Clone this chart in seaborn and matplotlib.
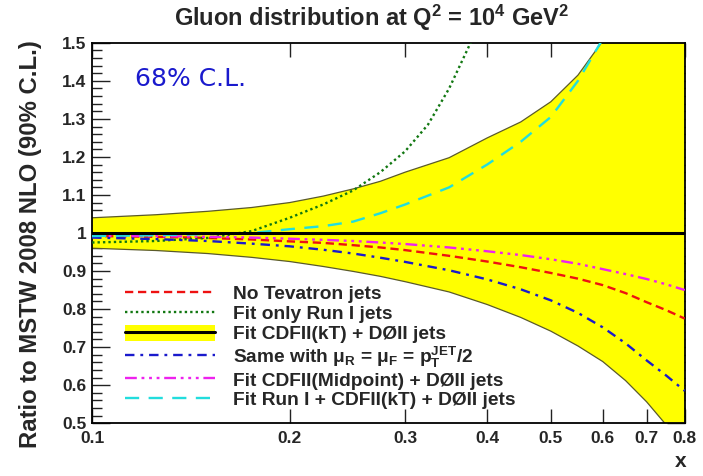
import numpy as np
import pandas as pd
import matplotlib
matplotlib.use("Agg")
import matplotlib.pyplot as plt
import seaborn as sns
from matplotlib.patches import Patch
from matplotlib.lines import Line2D
from matplotlib.ticker import FixedLocator, FixedFormatter, MultipleLocator, NullLocator

# ---------------- data ----------------
x_grid = [0.1, 0.125, 0.15, 0.175, 0.2, 0.225, 0.25, 0.275, 0.3, 0.35, 0.4, 0.45,
          0.5, 0.55, 0.6, 0.65, 0.7, 0.75, 0.8]
band_upper = [1.040, 1.048, 1.057, 1.067, 1.080, 1.097, 1.116, 1.136, 1.160, 1.198,
              1.250, 1.292, 1.345, 1.415, 1.505, 1.62, 1.78, 1.98, 2.2]
band_lower = [0.960, 0.954, 0.946, 0.936, 0.925, 0.912, 0.899, 0.886, 0.872, 0.845,
              0.812, 0.778, 0.742, 0.703, 0.662, 0.612, 0.556, 0.495, 0.42]
no_tevatron = [0.992, 0.990, 0.987, 0.983, 0.978, 0.974, 0.968, 0.962, 0.955, 0.940,
               0.925, 0.910, 0.895, 0.880, 0.863, 0.842, 0.818, 0.797, 0.775]
midpoint = [0.993, 0.992, 0.990, 0.988, 0.985, 0.982, 0.979, 0.975, 0.971, 0.962,
            0.952, 0.942, 0.931, 0.919, 0.905, 0.892, 0.879, 0.865, 0.850]
scale_var = [0.988, 0.984, 0.979, 0.972, 0.965, 0.956, 0.946, 0.935, 0.924, 0.902,
             0.878, 0.852, 0.823, 0.790, 0.752, 0.710, 0.665, 0.625, 0.585]
x_run1 = [0.1, 0.125, 0.15, 0.175, 0.2, 0.225, 0.25, 0.275, 0.3, 0.325, 0.35, 0.375, 0.4]
run1_only = [0.975, 0.979, 0.987, 1.005, 1.040, 1.075, 1.112, 1.160, 1.215, 1.285,
             1.380, 1.490, 1.600]
x_all = [0.1, 0.125, 0.15, 0.175, 0.2, 0.225, 0.25, 0.275, 0.3, 0.35, 0.4, 0.45,
         0.5, 0.55, 0.6, 0.65]
run1_cdf_d0 = [0.992, 0.994, 0.997, 1.000, 1.010, 1.018, 1.030, 1.052, 1.075, 1.120,
               1.180, 1.240, 1.305, 1.400, 1.510, 1.64]

labels = ["No Tevatron jets",
          "Fit only Run I jets",
          "Fit CDFII(kT) + DØII jets",
          r"Same with $\mu_R$ = $\mu_F$ = $p_T^{JET}$/2",
          "Fit CDFII(Midpoint) + DØII jets",
          "Fit Run I + CDFII(kT) + DØII jets"]
xtick_vals = [0.1, 0.2, 0.3, 0.4, 0.5, 0.6, 0.7, 0.8]
xtick_labels = ["0.1", "0.2", "0.3", "0.4", "0.5", "0.6", "0.7", "0.8"]
ytick_vals = [0.5, 0.6, 0.7, 0.8, 0.9, 1.0, 1.1, 1.2, 1.3, 1.4, 1.5]
ytick_labels = ["0.5", "0.6", "0.7", "0.8", "0.9", "1", "1.1", "1.2", "1.3", "1.4", "1.5"]

# ---------------- style ----------------
sns.set_style("ticks")
plt.rcParams["font.family"] = ["Liberation Sans", "DejaVu Sans"]
plt.rcParams["font.weight"] = "bold"
plt.rcParams["mathtext.fontset"] = "custom"
plt.rcParams["mathtext.rm"] = "Liberation Sans:bold"
plt.rcParams["mathtext.it"] = "Liberation Sans:bold"
plt.rcParams["mathtext.bf"] = "Liberation Sans:bold"
plt.rcParams["mathtext.default"] = "regular"

fig = plt.figure(figsize=(7.03, 4.76), dpi=100)
ax = fig.add_axes([0.131, 0.111, 0.843, 0.799])

ax.set_xscale("log")
ax.set_xlim(0.1, 0.8)
ax.set_ylim(0.5, 1.5)

# band
ax.fill_between(x_grid, band_lower, band_upper, color="#ffff00", zorder=1, lw=0)
sns.lineplot(x=x_grid, y=band_upper, ax=ax, color="#5a5a2a", lw=0.9, zorder=2)
sns.lineplot(x=x_grid, y=band_lower, ax=ax, color="#5a5a2a", lw=0.9, zorder=2)
ax.axhline(1.0, color="black", lw=2.2, zorder=5)

styles = {
    "red": ("#ee1111", (0, (3.5, 2))),
    "green": ("#117711", (0, (1, 1.3))),
    "blue": ("#1a1acc", (0, (4, 2.5, 1.2, 2.5))),
    "magenta": ("#ee22ee", (0, (5, 2, 1.2, 2, 1.2, 2, 1.2, 2))),
    "cyan": ("#22dddd", (0, (6, 4))),
}
series = [
    (x_grid, no_tevatron, "red"),
    (x_run1, run1_only, "green"),
    (x_grid, scale_var, "blue"),
    (x_grid, midpoint, "magenta"),
    (x_all, run1_cdf_d0, "cyan"),
]
for xs, ys, key in series:
    col, dash = styles[key]
    l = sns.lineplot(x=xs, y=ys, ax=ax, color=col, lw=1.7, zorder=4)
    l.get_lines()[-1].set_linestyle(dash)

# ticks
ax.xaxis.set_major_locator(FixedLocator(xtick_vals))
ax.xaxis.set_major_formatter(FixedFormatter(xtick_labels))
ax.xaxis.set_minor_locator(NullLocator())
ax.set_yticks(ytick_vals)
ax.set_yticklabels(ytick_labels)
ax.yaxis.set_minor_locator(MultipleLocator(0.02))
ax.tick_params(axis="both", which="both", direction="in", top=True, right=True,
               labelsize=12.5, width=1.0, color="#222222")
ax.tick_params(axis="x", which="major", length=10, pad=6)
ax.tick_params(axis="y", which="major", length=13, pad=4)
ax.tick_params(axis="y", which="minor", length=7)
for lab in ax.get_xticklabels() + ax.get_yticklabels():
    lab.set_fontweight("bold")
for sp in ax.spines.values():
    sp.set_linewidth(1.3)
    sp.set_color("black")

ax.set_xlabel("")
ax.set_ylabel("")

# legend
handles = []
for key in ["red", "green"]:
    col, dash = styles[key]
    handles.append(Line2D([], [], color=col, lw=1.7, linestyle=dash))
handles.append((Patch(facecolor="#ffff00", edgecolor="none"),
                Line2D([], [], color="black", lw=2.2)))
for key in ["blue", "magenta", "cyan"]:
    col, dash = styles[key]
    handles.append(Line2D([], [], color=col, lw=1.7, linestyle=dash))

leg = ax.legend(handles, labels, loc="upper left", bbox_to_anchor=(0.043, 0.384),
                frameon=False,
                prop={"family": ["Liberation Sans", "DejaVu Sans"], "weight": "bold", "size": 13.8},
                handlelength=4.7, handletextpad=0.93, labelspacing=0.07, handleheight=0.9,
                borderaxespad=0)

# texts
fig.text(0.529, 0.962, r"Gluon distribution at Q$^2$ = 10$^4$ GeV$^2$",
         ha="center", va="center", fontsize=17, fontweight="bold")
fig.text(0.043, 0.487, "Ratio to MSTW 2008 NLO (90% C.L.)", rotation=90,
         ha="center", va="center", fontsize=17.2, fontweight="bold")
fig.text(0.968, 0.03, "x", ha="center", va="center", fontsize=15, fontweight="bold")
ax.text(0.072, 0.905, "68% C.L.", transform=ax.transAxes, color="#1a1acd",
        fontsize=18, fontweight="normal", family="DejaVu Sans", ha="left", va="center")

fig.savefig("out.png", dpi=100)
